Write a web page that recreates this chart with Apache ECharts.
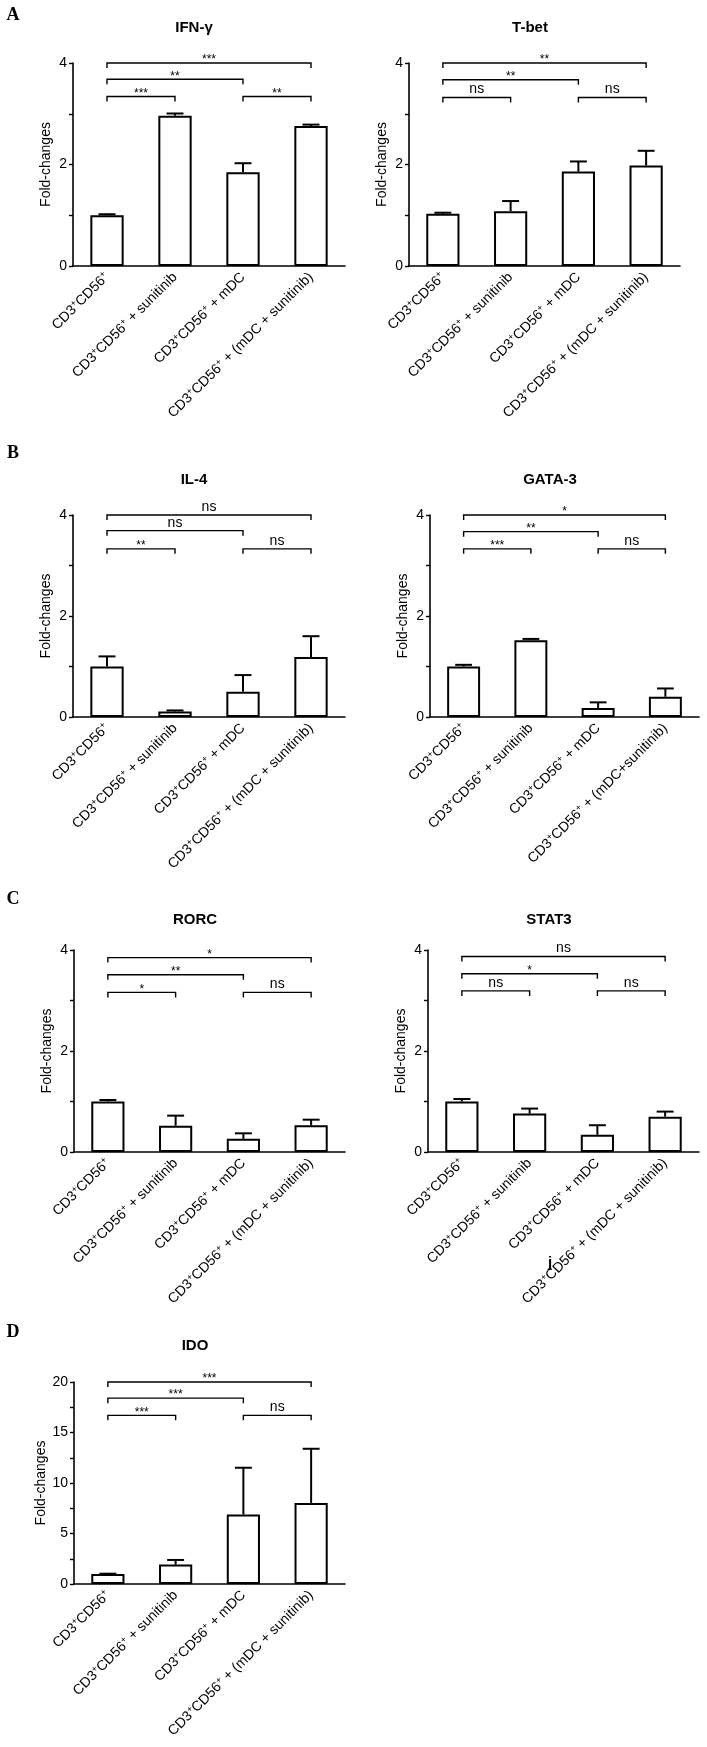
<!DOCTYPE html>
<html>
<head>
<meta charset="utf-8">
<script src="https://cdn.jsdelivr.net/npm/echarts@6/dist/echarts.min.js"></script>
<style>
html,body{margin:0;padding:0;background:#fff;}
#chart{width:707px;height:1747px;}
</style>
</head>
<body>
<div id="chart"></div>
<script>
// ---------- DATA ----------
const categoriesStd = ['CD3⁺CD56⁺', 'CD3⁺CD56⁺ + sunitinib', 'CD3⁺CD56⁺ + mDC', 'CD3⁺CD56⁺ + (mDC + sunitinib)'];
const categoriesGata = ['CD3⁺CD56⁺', 'CD3⁺CD56⁺ + sunitinib', 'CD3⁺CD56⁺ + mDC', 'CD3⁺CD56⁺ + (mDC+sunitinib)'];

const titles = ['IFN-γ', 'T-bet', 'IL-4', 'GATA-3', 'RORC', 'STAT3', 'IDO'];
const panelLetters = ['A', 'B', 'C', 'D'];

const ifngMean = [1.00, 2.96, 1.845, 2.76];
const ifngErr  = [0.02, 0.045, 0.18, 0.026];
const tbetMean = [1.03, 1.08, 1.86, 1.98];
const tbetErr  = [0.02, 0.20, 0.20, 0.29];
const il4Mean  = [1.00, 0.11, 0.50, 1.19];
const il4Err   = [0.20, 0.02, 0.33, 0.41];
const gata3Mean = [1.00, 1.52, 0.18, 0.40];
const gata3Err  = [0.033, 0.026, 0.11, 0.165];
const rorcMean = [1.00, 0.52, 0.26, 0.53];
const rorcErr  = [0.03, 0.20, 0.11, 0.11];
const stat3Mean = [1.00, 0.76, 0.34, 0.70];
const stat3Err  = [0.05, 0.10, 0.19, 0.10];
const idoMean  = [0.99, 1.92, 6.88, 8.03];
const idoErr   = [0.03, 0.46, 4.63, 5.36];

// brackets: [fromIndex, toIndex, level, label]
const ifngBrackets  = [[0,1,3.34,'***'], [0,2,3.68,'**'], [0,3,4.0,'***'], [2,3,3.34,'**']];
const tbetBrackets  = [[0,1,3.32,'ns'], [0,2,3.67,'**'], [0,3,4.0,'**'], [2,3,3.32,'ns']];
const il4Brackets   = [[0,1,3.33,'**'], [0,2,3.69,'ns'], [0,3,4.0,'ns'], [2,3,3.33,'ns']];
const gata3Brackets = [[0,1,3.33,'***'], [0,2,3.67,'**'], [0,3,4.0,'*'], [2,3,3.33,'ns']];
const rorcBrackets  = [[0,1,3.16,'*'], [0,2,3.51,'**'], [0,3,3.85,'*'], [2,3,3.16,'ns']];
const stat3Brackets = [[0,1,3.19,'ns'], [0,2,3.53,'*'], [0,3,3.87,'ns'], [2,3,3.19,'ns']];
const idoBrackets   = [[0,1,16.7,'***'], [0,2,18.4,'***'], [0,3,20,'***'], [2,3,16.7,'ns']];

const yTicksSmall = [0, 2, 4];
const yTicksIdo = [0, 5, 10, 15, 20];

// ---------- LAYOUT ----------
const FONT = '"Liberation Sans", Arial, sans-serif';
const panels = [
  {cats: categoriesStd, mean: ifngMean, err: ifngErr, br: ifngBrackets, max: 4, interval: 1, labels: yTicksSmall, grid: {left: 73, top: 63, width: 272, height: 203}, title: [194, 28]},
  {cats: categoriesStd, mean: tbetMean, err: tbetErr, br: tbetBrackets, max: 4, interval: 1, labels: yTicksSmall, grid: {left: 409, top: 63, width: 271, height: 203}, title: [530, 28]},
  {cats: categoriesStd, mean: il4Mean, err: il4Err, br: il4Brackets, max: 4, interval: 1, labels: yTicksSmall, grid: {left: 73, top: 515, width: 272, height: 202}, title: [194, 480]},
  {cats: categoriesGata, mean: gata3Mean, err: gata3Err, br: gata3Brackets, max: 4, interval: 1, labels: yTicksSmall, grid: {left: 430, top: 515, width: 269, height: 202}, title: [550, 480]},
  {cats: categoriesStd, mean: rorcMean, err: rorcErr, br: rorcBrackets, max: 4, interval: 1, labels: yTicksSmall, grid: {left: 74, top: 950, width: 271, height: 202}, title: [195, 920]},
  {cats: categoriesStd, mean: stat3Mean, err: stat3Err, br: stat3Brackets, max: 4, interval: 1, labels: yTicksSmall, grid: {left: 428, top: 950, width: 271, height: 202}, title: [549, 920]},
  {cats: categoriesStd, mean: idoMean, err: idoErr, br: idoBrackets, max: 20, interval: 2.5, labels: yTicksIdo, grid: {left: 74, top: 1382, width: 271, height: 202}, title: [195, 1346]}
];
const letterPos = [[13, 15], [13, 453], [13, 899], [13, 1332]];

function catFormatter(v) {
  return v.split('⁺').map(function (s) { return s === '' ? '' : '{n|' + s + '}'; })
          .join('{s|+}').replace(/\{s\|\+\}$/, '{s|+}');
}

const chart = echarts.init(document.getElementById('chart'), null, {renderer: 'canvas'});

const grids = [], xAxes = [], yAxes = [], series = [], graphics = [];

panels.forEach(function (p, k) {
  grids.push(Object.assign({containLabel: false}, p.grid));
  xAxes.push({
    type: 'category', gridIndex: k, data: p.cats,
    axisLine: {lineStyle: {color: '#000', width: 1.6}},
    axisTick: {show: false},
    axisLabel: {
      rotate: 45, margin: 9, interval: 0, color: '#000',
      formatter: catFormatter,
      rich: {
        n: {fontSize: 14, fontFamily: FONT, color: '#000', lineHeight: 16},
        s: {fontSize: 9, fontFamily: FONT, color: '#000', verticalAlign: 'top', lineHeight: 9}
      }
    }
  });
  yAxes.push({
    type: 'value', gridIndex: k, min: 0, max: p.max, interval: p.interval,
    name: 'Fold-changes', nameLocation: 'middle', nameGap: 20,
    nameTextStyle: {fontSize: 14, fontFamily: FONT, color: '#000'},
    axisLine: {show: true, lineStyle: {color: '#000', width: 1.6}},
    axisTick: {show: true, length: 4, lineStyle: {color: '#000', width: 1.4}},
    splitLine: {show: false},
    axisLabel: {
      fontSize: 14, fontFamily: FONT, color: '#000', margin: 6,
      formatter: function (v) { return p.labels.indexOf(v) >= 0 ? String(v) : ''; }
    }
  });
  series.push({
    type: 'bar', xAxisIndex: k, yAxisIndex: k, data: p.mean, barWidth: '49%',
    itemStyle: {color: '#fff', borderColor: '#000', borderWidth: 2},
    silent: true, z: 2
  });
  const errData = p.mean.map(function (m, i) { return [i, m, m + p.err[i]]; });
  series.push({
    type: 'custom', xAxisIndex: k, yAxisIndex: k, data: errData, z: 3, silent: true,
    renderItem: function (params, api) {
      const i = api.value(0);
      const a = api.coord([i, api.value(1)]);
      const b = api.coord([i, api.value(2)]);
      const half = api.size([1, 0])[0] * 0.125;
      return {type: 'group', children: [
        {type: 'line', shape: {x1: a[0], y1: a[1], x2: b[0], y2: b[1]}, style: {stroke: '#000', lineWidth: 2}},
        {type: 'line', shape: {x1: b[0] - half, y1: b[1], x2: b[0] + half, y2: b[1]}, style: {stroke: '#000', lineWidth: 2}}
      ]};
    }
  });
  const brData = p.br.map(function (b) { return [b[0], b[1], b[2]]; });
  series.push({
    type: 'custom', xAxisIndex: k, yAxisIndex: k, data: brData, z: 4, silent: true, clip: false,
    renderItem: function (params, api) {
      const lab = p.br[params.dataIndex][3];
      const a = api.coord([api.value(0), api.value(2)]);
      const b = api.coord([api.value(1), api.value(2)]);
      const drop = 5;
      const isStar = lab.indexOf('*') >= 0;
      return {type: 'group', children: [
        {type: 'polyline', shape: {points: [[a[0], a[1] + drop], [a[0], a[1]], [b[0], b[1]], [b[0], b[1] + drop]]},
         style: {stroke: '#000', lineWidth: 1.4, fill: null}},
        {type: 'text', style: {
          x: (a[0] + b[0]) / 2, y: a[1] + (isStar ? 3 : -1), text: lab,
          textAlign: 'center', textVerticalAlign: 'bottom',
          font: (isStar ? '12px ' : '14px ') + FONT, fill: '#000'
        }}
      ]};
    }
  });
  graphics.push({type: 'text', x: p.title[0], y: p.title[1],
    style: {text: titles[k], font: 'bold 15px ' + FONT, fill: '#000', textAlign: 'center', textVerticalAlign: 'middle'}});
});

panelLetters.forEach(function (L, i) {
  graphics.push({type: 'text', x: letterPos[i][0], y: letterPos[i][1],
    style: {text: L, font: 'bold 18px "Liberation Serif", "Times New Roman", serif', fill: '#000', textAlign: 'center', textVerticalAlign: 'middle'}});
});
graphics.push({type: 'text', x: 550, y: 1263,
  style: {text: 'j', font: 'bold 15px ' + FONT, fill: '#000', textAlign: 'center', textVerticalAlign: 'middle'}});

chart.setOption({
  animation: false,
  backgroundColor: '#fff',
  grid: grids, xAxis: xAxes, yAxis: yAxes, series: series, graphic: graphics
});
</script>
</body>
</html>
